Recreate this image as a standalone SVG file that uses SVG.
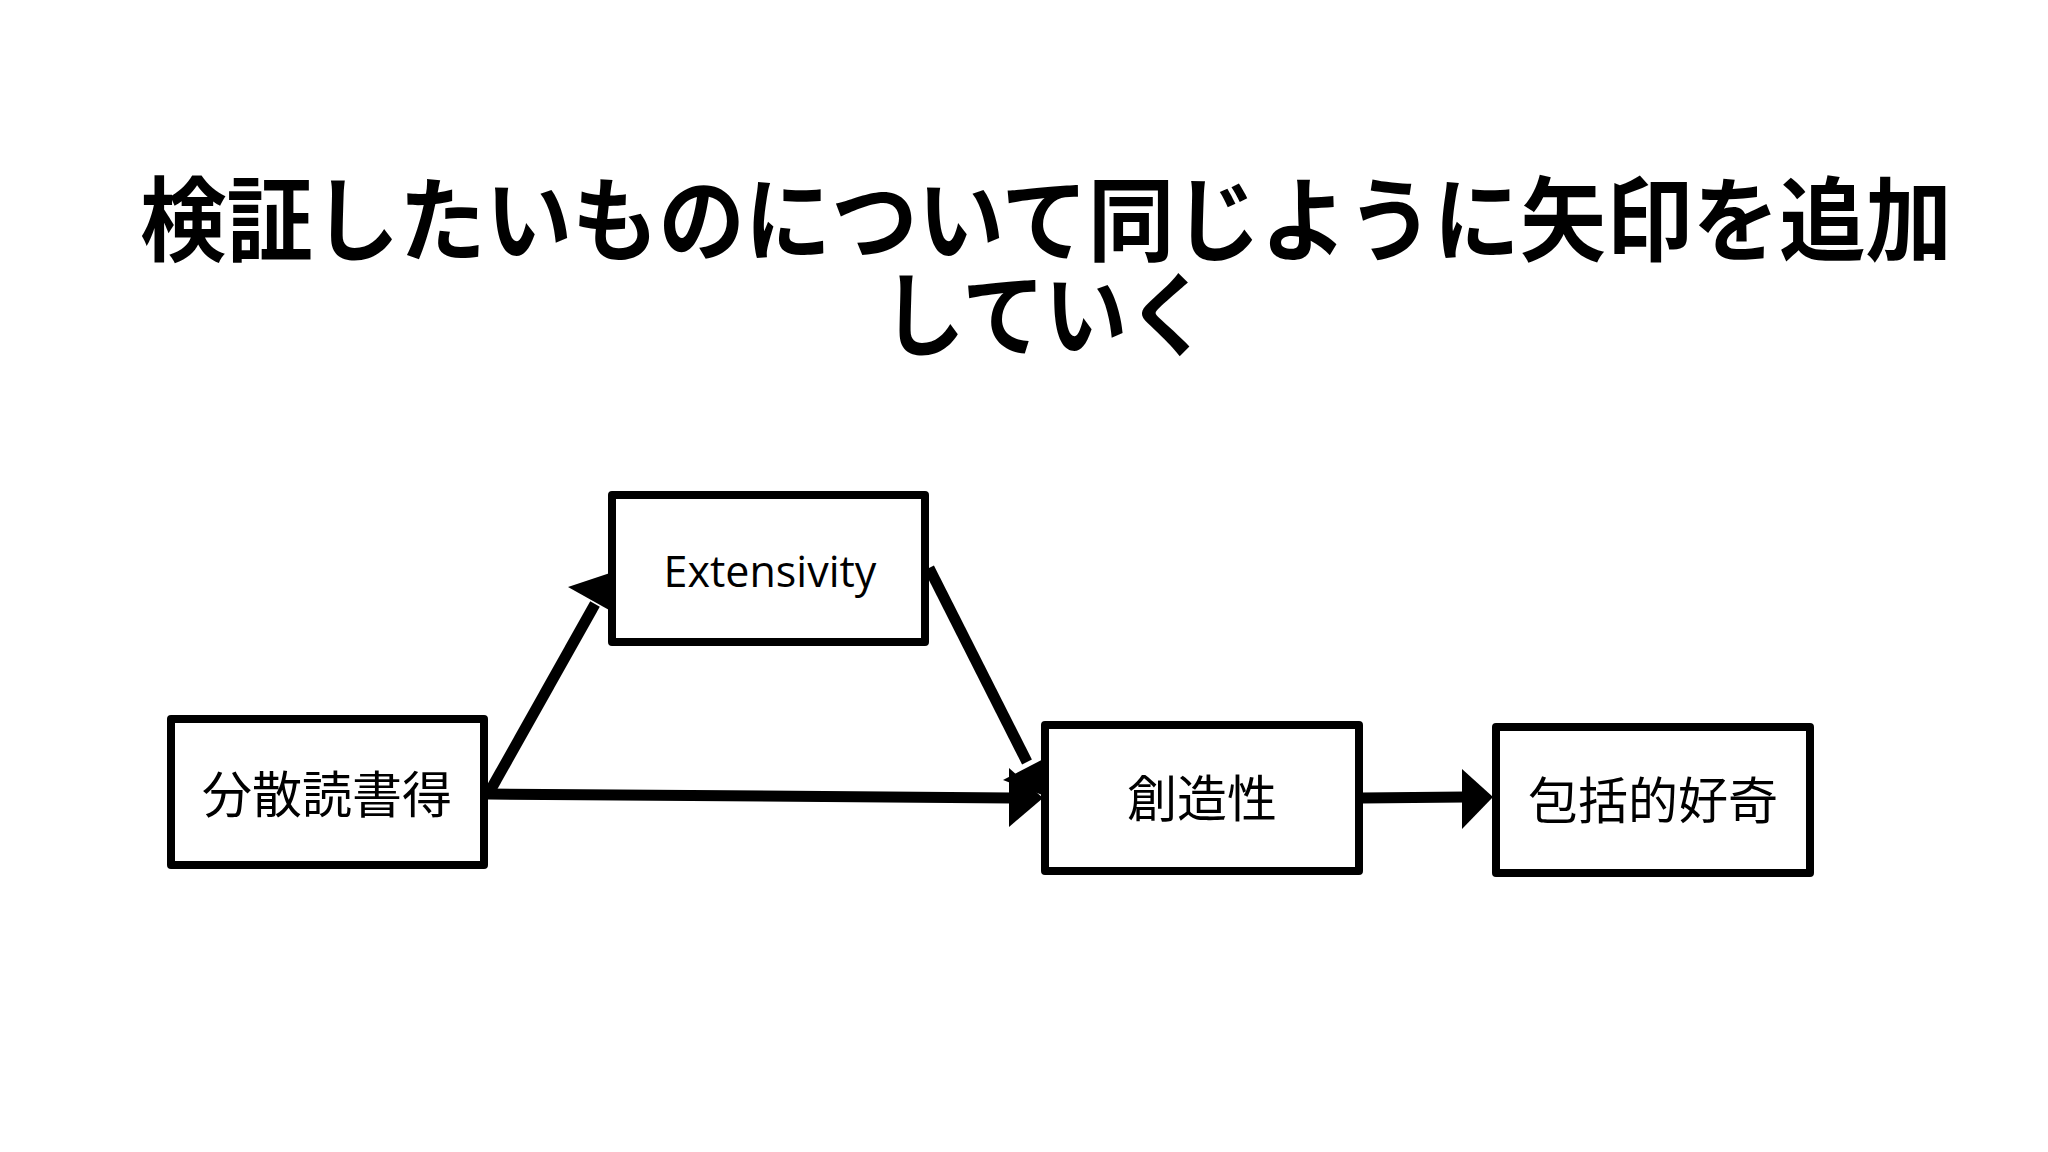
<svg xmlns="http://www.w3.org/2000/svg" width="2048" height="1152" viewBox="0 0 2048 1152">
<style>
.title{font-family:"Noto Sans CJK JP","Noto Sans",sans-serif;font-weight:700;font-size:92px;fill:#000}
.box{fill:#fff;stroke:#000;stroke-width:8;stroke-linejoin:round}
.jp{font-family:"Noto Sans CJK JP","Noto Sans",sans-serif;font-size:50px;fill:#000}
.en{font-family:"Open Sans","Noto Sans",sans-serif;font-size:43px;fill:#000}
.line{stroke:#000;stroke-width:11;fill:none}
.head{fill:#000}
</style>
<rect width="2048" height="1152" fill="#fff"/>
<g id="title">
<text class="title" x="1046" y="254" text-anchor="middle" textLength="1812" lengthAdjust="spacingAndGlyphs">検証したいものについて同じように矢印を追加</text>
<text class="title" x="1046" y="349" text-anchor="middle" textLength="328" lengthAdjust="spacingAndGlyphs">していく</text>
</g>
<g id="connectors">
<line class="line" x1="490" y1="791" x2="595" y2="604"/>
<polygon class="head" points="568,587 618,615 610,573"/>
<line class="line" x1="488" y1="794" x2="1012" y2="798"/>
<polygon class="head" points="1009,768 1043,798 1009,827"/>
<line class="line" x1="929" y1="568" x2="1027" y2="762"/>
<polygon class="head" points="1003,780 1055,753 1045,796"/>
<line class="line" x1="1362" y1="798" x2="1465" y2="797"/>
<polygon class="head" points="1462,769 1493,797 1462,829"/>
</g>
<g id="node-bunsan">
<rect class="box" x="171" y="719" width="313" height="146"/>
<text class="jp" x="327" y="813" text-anchor="middle">分散読書得</text>
</g>
<g id="node-extensivity">
<rect class="box" x="612" y="495" width="313" height="147"/>
<text class="en" x="770" y="587" text-anchor="middle">Extensivity</text>
</g>
<g id="node-souzousei">
<rect class="box" x="1045" y="725" width="314" height="146"/>
<text class="jp" x="1202" y="817" text-anchor="middle">創造性</text>
</g>
<g id="node-houkatsu">
<rect class="box" x="1496" y="727" width="314" height="146"/>
<text class="jp" x="1653" y="819" text-anchor="middle">包括的好奇</text>
</g>
</svg>
